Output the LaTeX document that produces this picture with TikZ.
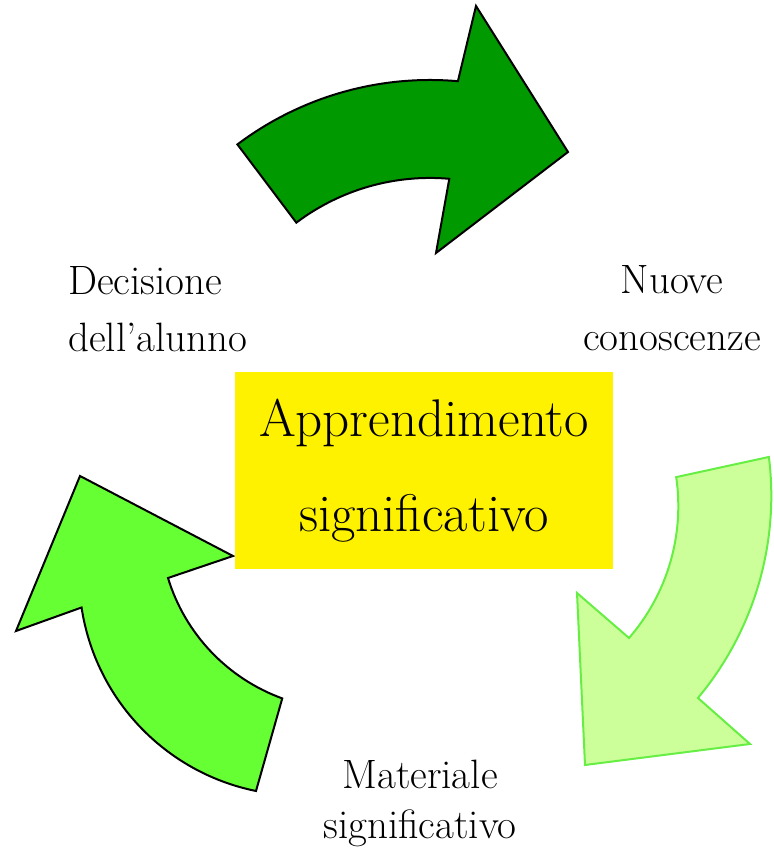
\documentclass[tikz,border=0pt]{standalone}
\usepackage{tikz}
\usepackage{xcolor}

\definecolor{verdescuro}{RGB}{0,153,0}
\definecolor{verdevivo}{RGB}{102,255,51}
\definecolor{verdechiaro}{RGB}{204,255,153}
\definecolor{verdebordo}{RGB}{102,238,68}

\begin{document}
\begin{tikzpicture}[x=1pt, y=1pt,
    freccia/.style={line width=2pt, line join=miter},
    etichetta/.style={font=\fontsize{41}{57}\selectfont, inner sep=0pt},
    riquadro/.style={fill=yellow, minimum width=378pt, minimum height=197pt, inner sep=0pt,
        font=\fontsize{53}{95}\selectfont, align=center}]
    \useasboundingbox (0,0) rectangle (773,850);

    \draw[freccia, draw=black, fill=verdescuro] (430,450) ++(127:320)
        arc[start angle=127, end angle=85, radius=320] -- (476,844) -- (568,698) -- (436,597)
        -- (449.3,671.2) arc[start angle=85, end angle=127, radius=222] -- cycle;

    \draw[freccia, draw=verdebordo, fill=verdechiaro] (456.3,354.1) ++(7.1:315)
        arc[start angle=7.1, end angle=-39.9, radius=315] -- (750,106) -- (585,85) -- (577,257)
        -- (629,212) arc[start angle=-41, end angle=8.3, radius=201] -- cycle;

    \draw[freccia, draw=black, fill=verdevivo] (80,374) -- (233,294)
        -- (168,272) arc[start angle=197, end angle=250, radius=186]
        -- (256,59) arc[start angle=258.5, end angle=188.6, radius=221] -- (16,219) -- cycle;

    \node[riquadro] (apprendimento) at (424,379.5) {Apprendimento\\significativo};

    \node[etichetta, anchor=west, align=left] (decisione) at (68,541) {Decisione\\dell'alunno};
    \node[etichetta, align=center] (nuove) at (672,542) {Nuove\\conoscenze};
    \node[etichetta, align=center, font=\fontsize{41}{50}\selectfont] (materiale) at (420,46.5) {Materiale\\significativo};
\end{tikzpicture}
\end{document}
